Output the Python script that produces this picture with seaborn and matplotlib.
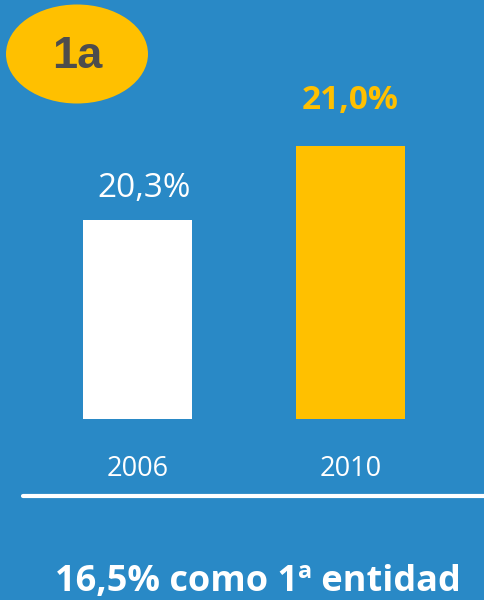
import matplotlib
matplotlib.use("Agg")
import matplotlib.pyplot as plt
import seaborn as sns
from matplotlib.patches import Ellipse

# data
years = ["2006", "2010"]
shares = [20.3, 21.0]
share_labels = ["20,3%", "21,0%"]
badge = "1a"
footer = "16,5% como 1ª entidad"

bg = "#2989C6"
yellow = "#FFC000"
bar_colors = ["#FFFFFF", yellow]
label_colors = ["#FFFFFF", yellow]
label_weights = ["normal", "bold"]
label_offsets = [(5, 23), (0, 33)]  # points from bar top

sns.set_style("white")
plt.rcParams["font.family"] = ["Open Sans", "DejaVu Sans"]

fig = plt.figure(figsize=(4.85, 6), dpi=100, facecolor=bg)
ax = fig.add_axes([0, 181 / 600, 1, 419 / 600])
ax.set_facecolor(bg)

sns.barplot(x=years, y=shares, hue=years, palette=bar_colors, legend=False,
            width=0.51, saturation=1, linewidth=0, ax=ax)

ax.set_xlim(-137.5 / 213, (485 - 137.5) / 213)
ax.set_ylim(18.417, 22.381)
ax.axis("off")

# value labels above bars
for i, (v, lab) in enumerate(zip(shares, share_labels)):
    ax.annotate(lab, (i, v), xytext=label_offsets[i], textcoords="offset points",
                ha="center", va="center", fontsize=24,
                color=label_colors[i], fontweight=label_weights[i])

# year labels under bars
for i, y in enumerate(years):
    fig.text((137.5 + 213 * i) / 485, 1 - 469 / 600, y, ha="center", va="center",
             fontsize=19.5, color="white")

# white divider line
fig.add_artist(plt.Line2D([23 / 485, 1], [1 - 496 / 600] * 2, color="white",
                          lw=3, transform=fig.transFigure))

fig.text(258 / 485, 1 - 582 / 600, footer, ha="center", va="center",
         fontsize=26, fontweight="bold", color="white")

# badge
fig.add_artist(Ellipse((77 / 485, 1 - 54 / 600), 142 / 485, 99 / 600,
                       transform=fig.transFigure, facecolor=yellow, edgecolor="none"))
fig.text(77 / 485, 1 - 57 / 600, badge, ha="center", va="center", fontsize=32.5,
         fontweight="bold", color="#4D4D4D", family=["Liberation Sans", "DejaVu Sans"])

fig.savefig("out.png", dpi=100, facecolor=bg)
